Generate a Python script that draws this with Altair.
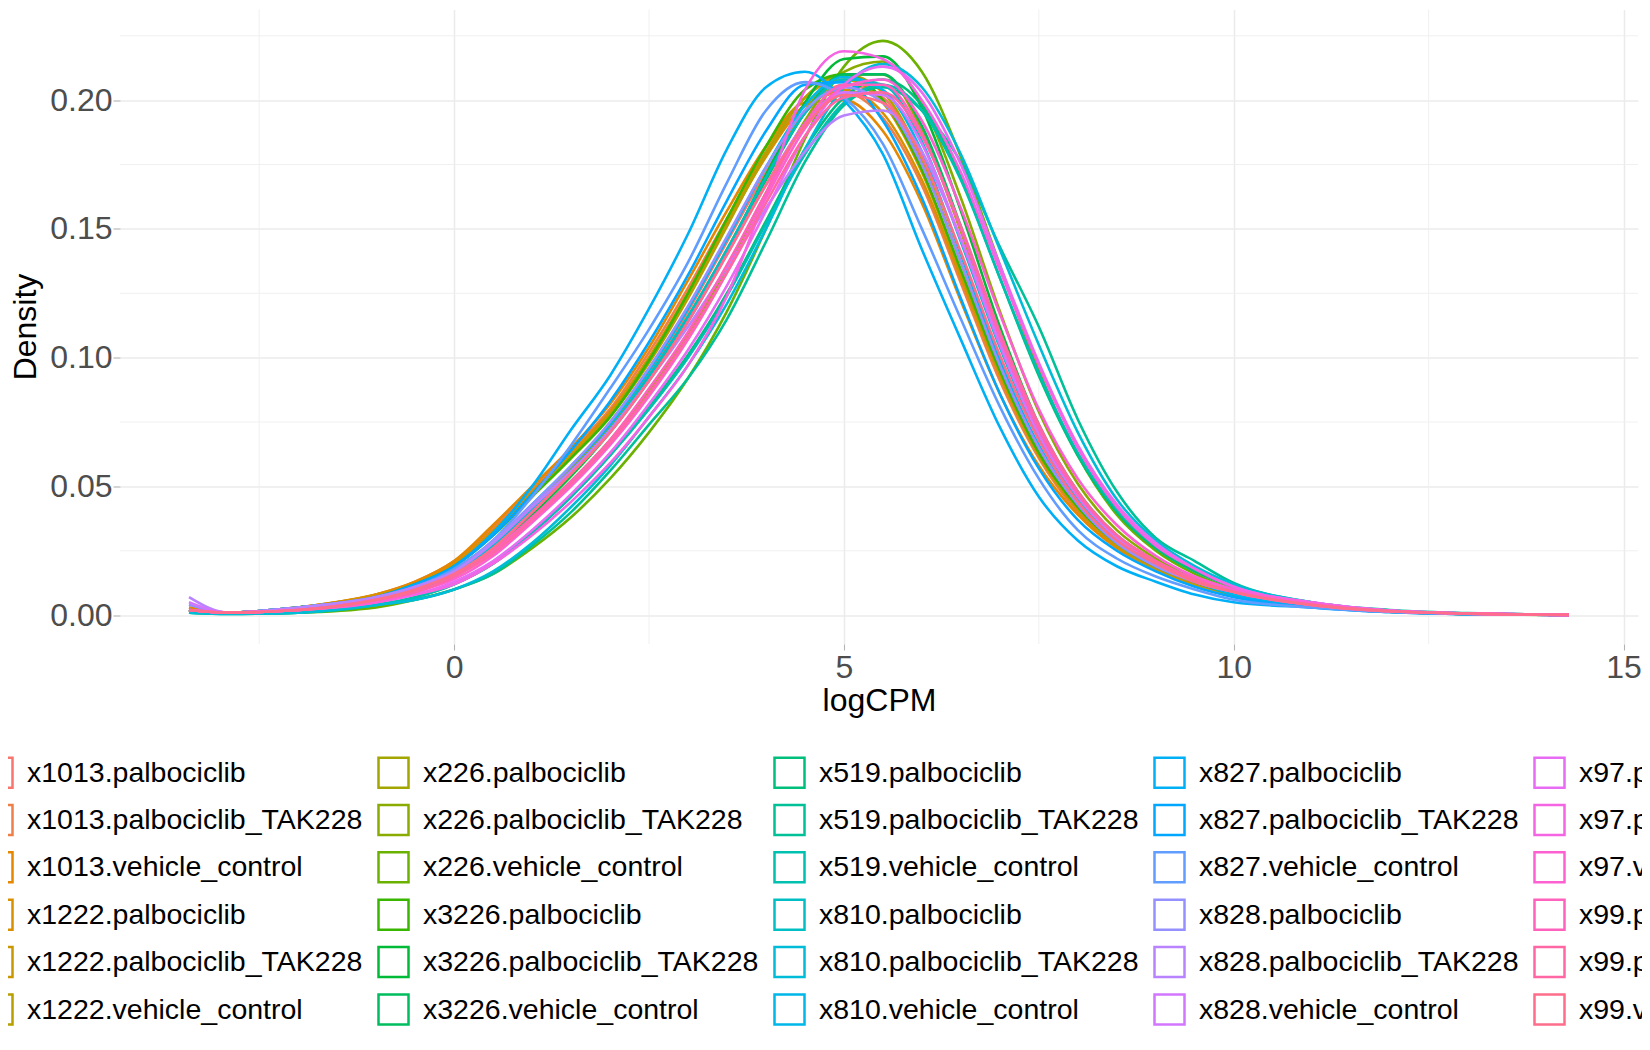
import math

import altair as alt
import pandas as pd

# logCPM grid the density curves were read at
logcpm = [-3.4, -2.9, -2.0, -1.0, -0.5, 0.0, 0.5, 1.0, 1.5, 2.0, 2.5, 3.0, 3.5, 4.0, 4.5,
          5.0, 5.5, 6.0, 6.5, 7.0, 7.5, 8.0, 8.5, 9.0, 9.5, 10.0, 11.0, 12.0, 13.0, 14.3]

x1013_palbociclib = [0.002, 0.001, 0.002, 0.006, 0.010, 0.016, 0.027, 0.041, 0.056, 0.073, 0.094, 0.118, 0.145, 0.172, 0.195, 0.206, 0.201, 0.176, 0.137, 0.097, 0.064, 0.042, 0.028, 0.019, 0.013, 0.009, 0.004, 0.0015, 0.0006, 0.0001]
x1013_palbociclib_TAK228 = [0.003, 0.001, 0.003, 0.008, 0.013, 0.021, 0.034, 0.049, 0.064, 0.080, 0.102, 0.127, 0.154, 0.179, 0.198, 0.203, 0.193, 0.167, 0.129, 0.091, 0.061, 0.040, 0.027, 0.018, 0.012, 0.008, 0.0035, 0.0013, 0.0005, 0.0001]
x1013_vehicle_control = [0.003, 0.001, 0.003, 0.008, 0.013, 0.021, 0.035, 0.050, 0.065, 0.082, 0.104, 0.130, 0.157, 0.182, 0.199, 0.200, 0.188, 0.160, 0.122, 0.086, 0.058, 0.039, 0.026, 0.018, 0.012, 0.008, 0.0035, 0.0013, 0.0005, 0.0001]
x1222_palbociclib = [0.002, 0.001, 0.003, 0.008, 0.012, 0.020, 0.033, 0.048, 0.063, 0.079, 0.100, 0.125, 0.152, 0.178, 0.198, 0.204, 0.195, 0.169, 0.131, 0.093, 0.062, 0.041, 0.027, 0.018, 0.012, 0.008, 0.0035, 0.0013, 0.0005, 0.0001]
x1222_palbociclib_TAK228 = [0.002, 0.001, 0.003, 0.007, 0.012, 0.019, 0.032, 0.047, 0.062, 0.078, 0.100, 0.125, 0.153, 0.180, 0.201, 0.208, 0.199, 0.172, 0.133, 0.094, 0.062, 0.041, 0.027, 0.018, 0.012, 0.008, 0.0035, 0.0013, 0.0005, 0.0001]
x1222_vehicle_control = [0.002, 0.001, 0.003, 0.007, 0.012, 0.019, 0.031, 0.046, 0.061, 0.077, 0.098, 0.123, 0.151, 0.179, 0.201, 0.210, 0.203, 0.177, 0.137, 0.097, 0.064, 0.042, 0.028, 0.019, 0.013, 0.008, 0.0035, 0.0013, 0.0005, 0.0001]
x226_palbociclib = [0.002, 0.001, 0.002, 0.006, 0.010, 0.017, 0.028, 0.042, 0.057, 0.073, 0.093, 0.116, 0.142, 0.170, 0.196, 0.210, 0.210, 0.188, 0.149, 0.106, 0.070, 0.045, 0.030, 0.020, 0.013, 0.009, 0.004, 0.0015, 0.0006, 0.0001]
x226_palbociclib_TAK228 = [0.002, 0.001, 0.002, 0.005, 0.009, 0.015, 0.025, 0.038, 0.052, 0.068, 0.087, 0.109, 0.135, 0.164, 0.192, 0.211, 0.215, 0.199, 0.162, 0.118, 0.079, 0.051, 0.033, 0.022, 0.014, 0.009, 0.004, 0.0015, 0.0006, 0.0001]
x226_vehicle_control = [0.002, 0.0007, 0.001, 0.003, 0.006, 0.010, 0.016, 0.026, 0.038, 0.053, 0.071, 0.092, 0.118, 0.150, 0.185, 0.213, 0.223, 0.211, 0.178, 0.136, 0.095, 0.062, 0.039, 0.025, 0.016, 0.010, 0.004, 0.0015, 0.0005, 0.0001]
x3226_palbociclib = [0.002, 0.001, 0.003, 0.007, 0.012, 0.019, 0.031, 0.046, 0.061, 0.077, 0.099, 0.125, 0.154, 0.182, 0.204, 0.210, 0.200, 0.173, 0.134, 0.095, 0.063, 0.042, 0.028, 0.019, 0.013, 0.008, 0.0035, 0.0013, 0.0005, 0.0001]
x3226_palbociclib_TAK228 = [0.002, 0.001, 0.002, 0.005, 0.009, 0.015, 0.025, 0.039, 0.054, 0.071, 0.091, 0.114, 0.141, 0.171, 0.199, 0.216, 0.217, 0.197, 0.157, 0.112, 0.074, 0.048, 0.031, 0.021, 0.014, 0.009, 0.004, 0.0015, 0.0006, 0.0001]
x3226_vehicle_control = [0.002, 0.001, 0.002, 0.006, 0.010, 0.016, 0.027, 0.041, 0.056, 0.072, 0.092, 0.115, 0.141, 0.169, 0.195, 0.210, 0.210, 0.190, 0.151, 0.108, 0.072, 0.046, 0.030, 0.020, 0.013, 0.009, 0.004, 0.0015, 0.0006, 0.0001]
x519_palbociclib = [0.001, 0.0006, 0.001, 0.004, 0.007, 0.012, 0.020, 0.032, 0.046, 0.062, 0.081, 0.101, 0.125, 0.153, 0.181, 0.201, 0.208, 0.198, 0.170, 0.131, 0.093, 0.062, 0.040, 0.026, 0.017, 0.011, 0.0045, 0.0017, 0.0007, 0.0001]
x519_palbociclib_TAK228 = [0.001, 0.0005, 0.001, 0.004, 0.006, 0.010, 0.016, 0.027, 0.040, 0.056, 0.074, 0.092, 0.115, 0.145, 0.176, 0.198, 0.205, 0.196, 0.176, 0.143, 0.112, 0.076, 0.048, 0.030, 0.021, 0.0125, 0.005, 0.002, 0.0008, 0.0001]
x519_vehicle_control = [0.001, 0.0006, 0.001, 0.004, 0.007, 0.012, 0.020, 0.032, 0.046, 0.062, 0.080, 0.100, 0.124, 0.152, 0.179, 0.199, 0.206, 0.196, 0.169, 0.131, 0.094, 0.063, 0.041, 0.027, 0.018, 0.011, 0.0045, 0.0017, 0.0007, 0.0001]
x810_palbociclib = [0.002, 0.001, 0.002, 0.006, 0.010, 0.016, 0.027, 0.041, 0.056, 0.072, 0.093, 0.116, 0.142, 0.170, 0.195, 0.208, 0.206, 0.184, 0.145, 0.104, 0.069, 0.045, 0.029, 0.020, 0.013, 0.009, 0.004, 0.0015, 0.0006, 0.0001]
x810_palbociclib_TAK228 = [0.001, 0.0005, 0.001, 0.004, 0.006, 0.010, 0.017, 0.028, 0.042, 0.058, 0.077, 0.097, 0.121, 0.150, 0.181, 0.205, 0.214, 0.205, 0.179, 0.142, 0.105, 0.071, 0.045, 0.029, 0.019, 0.012, 0.005, 0.0018, 0.0007, 0.0001]
x810_vehicle_control = [0.002, 0.001, 0.002, 0.006, 0.011, 0.017, 0.028, 0.043, 0.058, 0.074, 0.095, 0.119, 0.146, 0.174, 0.198, 0.209, 0.204, 0.180, 0.140, 0.099, 0.066, 0.043, 0.028, 0.019, 0.013, 0.008, 0.0035, 0.0013, 0.0005, 0.0001]
x827_palbociclib = [0.002, 0.001, 0.003, 0.007, 0.011, 0.019, 0.032, 0.050, 0.072, 0.093, 0.119, 0.148, 0.181, 0.205, 0.211, 0.200, 0.179, 0.142, 0.107, 0.073, 0.046, 0.029, 0.019, 0.013, 0.008, 0.005, 0.003, 0.0012, 0.0004, 0.0001]
x827_palbociclib_TAK228 = [0.002, 0.001, 0.003, 0.007, 0.012, 0.019, 0.031, 0.047, 0.064, 0.083, 0.106, 0.132, 0.161, 0.188, 0.206, 0.207, 0.192, 0.162, 0.123, 0.086, 0.057, 0.037, 0.025, 0.017, 0.011, 0.007, 0.003, 0.0012, 0.0004, 0.0001]
x827_vehicle_control = [0.002, 0.001, 0.003, 0.007, 0.011, 0.018, 0.029, 0.046, 0.066, 0.088, 0.111, 0.137, 0.168, 0.196, 0.207, 0.201, 0.183, 0.150, 0.115, 0.081, 0.053, 0.033, 0.022, 0.015, 0.010, 0.006, 0.003, 0.0012, 0.0004, 0.0001]
x828_palbociclib = [0.004, 0.001, 0.002, 0.006, 0.011, 0.017, 0.029, 0.043, 0.058, 0.075, 0.096, 0.120, 0.147, 0.174, 0.196, 0.205, 0.199, 0.175, 0.137, 0.097, 0.065, 0.043, 0.028, 0.019, 0.013, 0.009, 0.004, 0.0015, 0.0006, 0.0001]
x828_palbociclib_TAK228 = [0.007, 0.001, 0.003, 0.007, 0.011, 0.017, 0.028, 0.042, 0.056, 0.072, 0.091, 0.112, 0.135, 0.158, 0.180, 0.194, 0.196, 0.180, 0.146, 0.107, 0.072, 0.047, 0.031, 0.021, 0.014, 0.009, 0.0045, 0.0017, 0.0007, 0.0001]
x828_vehicle_control = [0.005, 0.001, 0.002, 0.006, 0.010, 0.016, 0.026, 0.040, 0.055, 0.071, 0.091, 0.114, 0.140, 0.167, 0.191, 0.203, 0.202, 0.183, 0.146, 0.105, 0.070, 0.046, 0.030, 0.020, 0.013, 0.009, 0.004, 0.0015, 0.0006, 0.0001]
x97_palbociclib = [0.002, 0.001, 0.002, 0.005, 0.008, 0.013, 0.021, 0.033, 0.047, 0.063, 0.082, 0.103, 0.128, 0.157, 0.186, 0.206, 0.213, 0.203, 0.175, 0.136, 0.098, 0.066, 0.043, 0.028, 0.018, 0.011, 0.005, 0.0018, 0.0007, 0.0001]
x97_palbociclib_TAK228 = [0.002, 0.001, 0.002, 0.005, 0.008, 0.012, 0.020, 0.031, 0.044, 0.059, 0.077, 0.097, 0.124, 0.163, 0.204, 0.219, 0.216, 0.200, 0.172, 0.134, 0.097, 0.065, 0.042, 0.027, 0.018, 0.011, 0.005, 0.0018, 0.0007, 0.0001]
x97_vehicle_control = [0.002, 0.001, 0.002, 0.005, 0.009, 0.014, 0.023, 0.036, 0.050, 0.066, 0.085, 0.107, 0.133, 0.162, 0.189, 0.205, 0.208, 0.192, 0.158, 0.117, 0.080, 0.053, 0.035, 0.023, 0.015, 0.010, 0.0045, 0.0017, 0.0007, 0.0001]
x99_palbociclib = [0.002, 0.001, 0.002, 0.006, 0.009, 0.015, 0.025, 0.038, 0.052, 0.068, 0.088, 0.110, 0.136, 0.164, 0.191, 0.206, 0.206, 0.187, 0.150, 0.108, 0.072, 0.047, 0.031, 0.021, 0.014, 0.009, 0.004, 0.0015, 0.0006, 0.0001]
x99_palbociclib_TAK228 = [0.002, 0.001, 0.002, 0.006, 0.009, 0.015, 0.024, 0.037, 0.051, 0.067, 0.086, 0.108, 0.133, 0.160, 0.186, 0.201, 0.203, 0.186, 0.151, 0.110, 0.074, 0.048, 0.031, 0.021, 0.014, 0.009, 0.004, 0.0015, 0.0006, 0.0001]
x99_vehicle_control = [0.002, 0.001, 0.002, 0.006, 0.010, 0.016, 0.026, 0.040, 0.055, 0.071, 0.091, 0.114, 0.140, 0.167, 0.190, 0.202, 0.199, 0.178, 0.141, 0.101, 0.068, 0.044, 0.029, 0.020, 0.013, 0.009, 0.004, 0.0015, 0.0006, 0.0001]

samples = [
    ("x1013.palbociclib", x1013_palbociclib),
    ("x1013.palbociclib_TAK228", x1013_palbociclib_TAK228),
    ("x1013.vehicle_control", x1013_vehicle_control),
    ("x1222.palbociclib", x1222_palbociclib),
    ("x1222.palbociclib_TAK228", x1222_palbociclib_TAK228),
    ("x1222.vehicle_control", x1222_vehicle_control),
    ("x226.palbociclib", x226_palbociclib),
    ("x226.palbociclib_TAK228", x226_palbociclib_TAK228),
    ("x226.vehicle_control", x226_vehicle_control),
    ("x3226.palbociclib", x3226_palbociclib),
    ("x3226.palbociclib_TAK228", x3226_palbociclib_TAK228),
    ("x3226.vehicle_control", x3226_vehicle_control),
    ("x519.palbociclib", x519_palbociclib),
    ("x519.palbociclib_TAK228", x519_palbociclib_TAK228),
    ("x519.vehicle_control", x519_vehicle_control),
    ("x810.palbociclib", x810_palbociclib),
    ("x810.palbociclib_TAK228", x810_palbociclib_TAK228),
    ("x810.vehicle_control", x810_vehicle_control),
    ("x827.palbociclib", x827_palbociclib),
    ("x827.palbociclib_TAK228", x827_palbociclib_TAK228),
    ("x827.vehicle_control", x827_vehicle_control),
    ("x828.palbociclib", x828_palbociclib),
    ("x828.palbociclib_TAK228", x828_palbociclib_TAK228),
    ("x828.vehicle_control", x828_vehicle_control),
    ("x97.palbociclib", x97_palbociclib),
    ("x97.palbociclib_TAK228", x97_palbociclib_TAK228),
    ("x97.vehicle_control", x97_vehicle_control),
    ("x99.palbociclib", x99_palbociclib),
    ("x99.palbociclib_TAK228", x99_palbociclib_TAK228),
    ("x99.vehicle_control", x99_vehicle_control),
]

x_major = [0, 5, 10, 15]
x_minor = [-2.5, 2.5, 7.5, 12.5]
y_major = [0.0, 0.05, 0.10, 0.15, 0.20]
y_minor = [0.025, 0.075, 0.125, 0.175, 0.225]

FONT = "Liberation Sans, Arial, Helvetica, sans-serif"


def hue_hex(h, c=100.0, l=65.0):
    # ggplot2 default hue palette: polar LUV -> sRGB
    hr = math.radians(h)
    u, v = c * math.cos(hr), c * math.sin(hr)
    xn, yn, zn = 95.047, 100.0, 108.883
    y = yn * ((l + 16) / 116) ** 3
    t = xn + 15 * yn + 3 * zn
    up = u / (13 * l) + 4 * xn / t
    vp = v / (13 * l) + 9 * yn / t
    x = 9 * y * up / (4 * vp)
    z = -x / 3 - 5 * y + 3 * y / vp
    x, y, z = x / 100, y / 100, z / 100
    rgb = [3.240479 * x - 1.537150 * y - 0.498535 * z,
           -0.969256 * x + 1.875992 * y + 0.041556 * z,
           0.055648 * x - 0.204043 * y + 1.057311 * z]
    out = []
    for ch in rgb:
        ch = 12.92 * ch if ch <= 0.0031308 else 1.055 * ch ** (1 / 2.4) - 0.055
        out.append(int(round(min(max(ch, 0), 1) * 255)))
    return "#%02X%02X%02X" % tuple(out)


names = [n for n, _ in samples]
n = len(names)
colors = [hue_hex(15 + 360 * i / n) for i in range(n)]

rows = []
for name, vals in samples:
    for xv, yv in zip(logcpm, vals):
        rows.append({"sample": name, "logCPM": xv, "density": yv})
df = pd.DataFrame(rows)

x_scale = alt.Scale(domain=[-4.285, 15.185], nice=False, zero=False)
y_scale = alt.Scale(domain=[-0.0112, 0.2352], nice=False, zero=False)

x_axis = alt.Axis(values=x_major, title="logCPM", titleY=66, titleBaseline="alphabetic",
                  labelBaseline="alphabetic", labelPadding=27, tickSize=6)
y_axis = alt.Axis(values=y_major, format=".2f", title="Density", titleX=-85, titleY=317,
                  titleBaseline="alphabetic", titleAlign="center", labelPadding=1, tickSize=7)

minor_x = alt.Chart(pd.DataFrame({"logCPM": x_minor})).mark_rule(
    color="#EEEEEE", strokeWidth=0.9
).encode(x=alt.X("logCPM:Q", scale=x_scale, axis=x_axis))

minor_y = alt.Chart(pd.DataFrame({"density": y_minor})).mark_rule(
    color="#EEEEEE", strokeWidth=0.9
).encode(y=alt.Y("density:Q", scale=y_scale, axis=y_axis))

lines = alt.Chart(df).mark_line(strokeWidth=2.6, interpolate="monotone").encode(
    x=alt.X("logCPM:Q", scale=x_scale, axis=x_axis),
    y=alt.Y("density:Q", scale=y_scale, axis=y_axis),
    color=alt.Color(
        "sample:N",
        scale=alt.Scale(domain=names, range=colors),
        legend=alt.Legend(
            title=None, orient="none", legendX=-139, legendY=746.5, columns=5,
            symbolType="square", symbolSize=900, symbolStrokeWidth=2.5,
            labelFontSize=28.5, labelFont=FONT, labelColor="#000000", labelLimit=1000,
            labelOffset=13, columnPadding=10, rowPadding=6.4, padding=0,
        ),
    ),
    detail="sample:N",
)

chart = alt.layer(minor_x, minor_y, lines).properties(
    width=1518,
    height=634.5,
    padding={"left": 112, "top": 1.5, "right": 4, "bottom": 394},
    autosize=alt.AutoSizeParams(type="none"),
).configure_view(
    strokeWidth=0
).configure_axis(
    domain=False,
    grid=True,
    gridColor="#EBEBEB",
    gridWidth=1.5,
    ticks=True,
    tickColor="#B3B3B3",
    tickWidth=1.1,
    labelFont=FONT,
    labelFontSize=32,
    labelColor="#4D4D4D",
    titleFont=FONT,
    titleFontSize=32,
    titleFontWeight="normal",
    titleColor="#000000",
)

chart.save("out.html", embed_options={"renderer": "svg", "actions": False})
